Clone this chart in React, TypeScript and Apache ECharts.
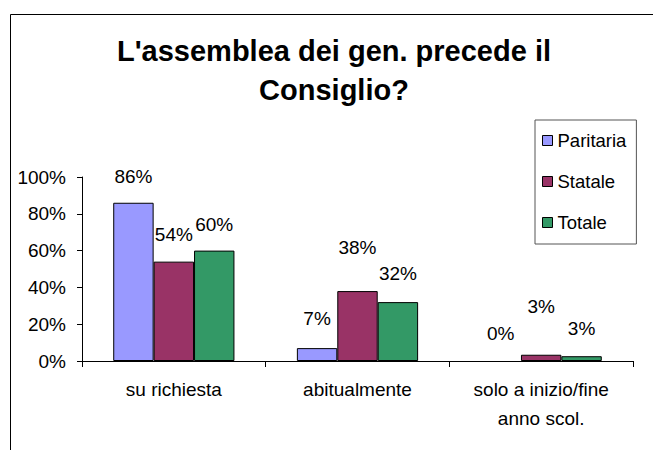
import React, { useEffect, useRef } from "react";
import * as echarts from "echarts";

const categories = ["su richiesta", "abitualmente", "solo a inizio/fine\nanno scol."];
const seriesNames = ["Paritaria", "Statale", "Totale"];
const paritaria = [86, 7, 0];
const statale = [54, 38, 3.4];
const totale = [60, 32, 2.6];
const yTicks = { min: 0, max: 100, interval: 20 };

// label lift above each bar (style only, px)
const labelLift = [
  [17, 20, 18.5],
  [17.5, 34, 38.5],
  [16.5, 19, 18.5],
];
const colors = ["#9999FF", "#993366", "#339966"];
const FONT = "'Liberation Sans', Arial, sans-serif";

export default function App() {
  const ref = useRef<HTMLDivElement>(null);
  useEffect(() => {
    if (!ref.current) return;
    const chart = echarts.init(ref.current, undefined, { renderer: "svg" });
    const values = [paritaria, statale, totale];
    const option: any = {
      animation: false,
      backgroundColor: "#ffffff",
      textStyle: { fontFamily: FONT, color: "#000" },
      title: {
        text: "L'assemblea dei gen. precede il\nConsiglio?",
        left: 334,
        top: 31,
        padding: 0,
        textAlign: "center",
        textStyle: {
          fontFamily: FONT,
          fontSize: 29,
          fontWeight: "bold",
          lineHeight: 39,
          color: "#000",
        },
      },
      legend: {
        orient: "vertical",
        left: 535,
        top: 120,
        padding: [11, 10, 12, 7],
        itemWidth: 10,
        itemHeight: 10,
        itemGap: 22,
        icon: "rect",
        selectedMode: false,
        backgroundColor: "#ffffff",
        borderColor: "#555",
        borderWidth: 1,
        itemStyle: { borderColor: "#000", borderWidth: 1 },
        textStyle: { fontFamily: FONT, fontSize: 18.5, lineHeight: 18, color: "#000" },
        data: seriesNames,
      },
      grid: {
        left: 82,
        right: 20,
        top: 177,
        bottom: 89,
        containLabel: false,
        outerBoundsMode: "none",
      },
      xAxis: {
        type: "category",
        data: categories,
        axisLine: { show: true, lineStyle: { color: "#000", width: 1 } },
        axisTick: { show: true, length: 6, lineStyle: { color: "#000" } },
        axisLabel: {
          margin: 14,
          fontFamily: FONT,
          fontSize: 19,
          lineHeight: 29,
          color: "#000",
          interval: 0,
        },
        splitLine: { show: false },
      },
      yAxis: {
        type: "value",
        min: yTicks.min,
        max: yTicks.max,
        interval: yTicks.interval,
        axisLine: { show: true, lineStyle: { color: "#000", width: 1 } },
        axisTick: { show: true, length: 5, lineStyle: { color: "#000" } },
        axisLabel: {
          margin: 16,
          fontFamily: FONT,
          fontSize: 19,
          color: "#000",
          formatter: "{value}%",
        },
        splitLine: { show: false },
      },
      series: seriesNames.map((name, si) => ({
        name,
        type: "bar",
        barGap: "0%",
        barCategoryGap: "34%",
        itemStyle: { color: colors[si], borderColor: "#000", borderWidth: 1 },
        label: {
          show: true,
          position: "top",
          fontFamily: FONT,
          fontSize: 19,
          lineHeight: 19,
          color: "#000",
          formatter: (p: any) => Math.round(p.value) + "%",
        },
        data: values[si].map((v, ci) => ({
          value: v,
          itemStyle: v === 0 ? { borderWidth: 0 } : undefined,
          label: { distance: labelLift[si][ci] },
        })),
      })),
      graphic: [
        {
          type: "rect",
          left: 8,
          top: 12,
          shape: { x: 0, y: 0, width: 700, height: 500 },
          style: { fill: "none", stroke: "#000", lineWidth: 1 },
          silent: true,
          z: 100,
        },
      ],
    };
    chart.setOption(option);
    return () => chart.dispose();
  }, []);
  return (
    <div
      ref={ref}
      style={{ position: "absolute", left: 0, top: 0, width: 653, height: 450 }}
    />
  );
}
